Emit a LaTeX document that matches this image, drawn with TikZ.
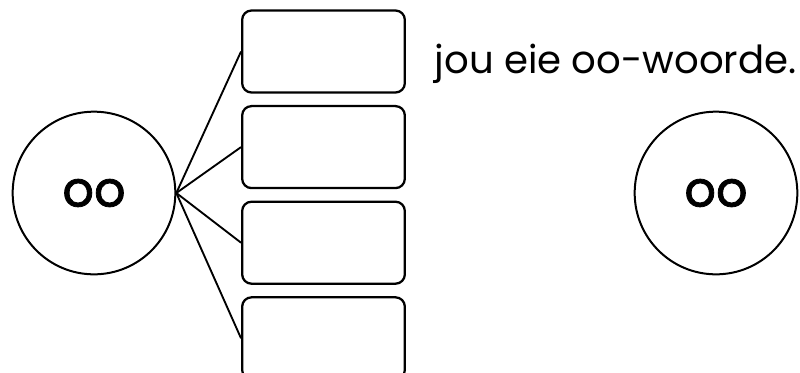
\documentclass[tikz,border=0pt]{standalone}
\usepackage{fontspec}
\setmainfont{Poppins}
\newfontfamily\klankfont[FakeBold=1.6]{Poppins}
\usepackage{tikz}
\usetikzlibrary{positioning}
\tikzset{
  klank/.style={draw, circle, line width=1.5pt, minimum size=122pt, inner sep=0pt,
                font=\klankfont\fontsize{37}{40}\selectfont},
  woord/.style={draw, rounded corners=7pt, line width=1.7pt, minimum width=122pt,
                minimum height=61.5pt, inner sep=0pt},
  tak/.style={line width=1.4pt},
}
\begin{document}
\begin{tikzpicture}[x=0.75pt, y=-0.75pt, node distance=8.5pt]
  \useasboundingbox (0,0) rectangle (800,372);
  \node[klank] (links) at (94,193) {oo};
  \node[klank] (regs) at (716,193) {oo};
  \node[woord] (w1) at (323.5,51.5) {};
  \node[woord, below=of w1] (w2) {};
  \node[woord, below=of w2] (w3) {};
  \node[woord, below=of w3] (w4) {};
  \node[anchor=base west, font=\fontsize{29}{31}\selectfont] (opdrag) at (430,73) {jou eie oo-woorde.};

  \foreach \w in {w1,w2,w3,w4}
    \draw[tak] (links.east) -- (\w.west);
\end{tikzpicture}
\end{document}
